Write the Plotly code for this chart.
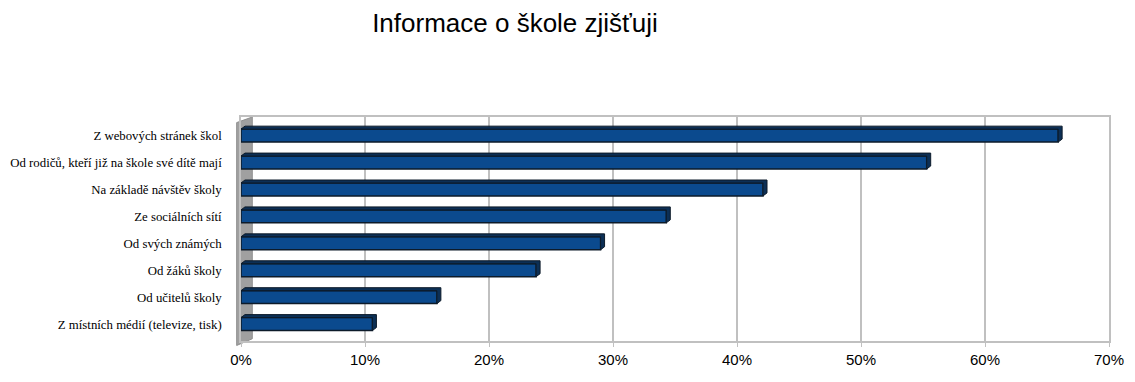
import plotly.graph_objects as go

categories = [
    "Z místních médií (televize, tisk)",
    "Od učitelů školy",
    "Od žáků školy",
    "Od svých známých",
    "Ze sociálních sítí",
    "Na základě návštěv školy",
    "Od rodičů, kteří již na škole své dítě mají",
    "Z webových stránek škol",
]
values = [0.106, 0.158, 0.238, 0.290, 0.343, 0.421, 0.553, 0.659]
tick_vals = [0, 0.1, 0.2, 0.3, 0.4, 0.5, 0.6, 0.7]
tick_text = ["0%", "10%", "20%", "30%", "40%", "50%", "60%", "70%"]

BAR_COLOR = "#0b4a8e"
EDGE = "#0d1b2a"
CAP = "#0c2f55"
GRID = "#c0c0c0"

fig = go.Figure()
fig.add_trace(go.Bar(
    x=values, y=categories, orientation="h", width=0.48,
    marker=dict(color=BAR_COLOR, line=dict(color=EDGE, width=1.5)),
    hoverinfo="x+y",
))

shapes = []
# left 3D side wall
shapes.append(dict(type="path", xref="paper", yref="paper",
                   path="M -0.005,-0.02 L 0.013,0.01 L 0.013,1.0 L -0.005,0.975 Z",
                   fillcolor="#a0a0a0", line=dict(color="#909090", width=1), layer="below"))
# 3D top/right faces of bars derived from data
h = 0.24
dx = 0.0032
dy = 0.11
for i, v in enumerate(values):
    p = (f"M 0,{i+h} L {dx},{i+h+dy} L {v+dx},{i+h+dy} L {v+dx},{i-h+dy} "
         f"L {v},{i-h} L {v},{i+h} Z")
    shapes.append(dict(type="path", xref="x", yref="y", path=p,
                       fillcolor=CAP, line=dict(color=EDGE, width=1), layer="above"))

fig.update_layout(
    width=1135, height=382,
    margin=dict(l=233, r=34, t=109, b=49),
    paper_bgcolor="white", plot_bgcolor="white",
    showlegend=False,
    bargap=0.5,
    shapes=shapes,
    title=dict(text="Informace o škole zjišťuji", x=507/1135, xanchor="center",
               y=1 - 15/382, yanchor="middle", yref="container",
               font=dict(family="Liberation Sans, Arial", size=26, color="#000")),
    xaxis=dict(range=[0, 0.70], tickvals=tick_vals, ticktext=tick_text,
               showgrid=True, gridcolor=GRID, gridwidth=1.5, automargin=False,
               showline=True, mirror=True, linecolor=GRID, linewidth=1.5,
               ticks="outside", ticklen=4, tickcolor=GRID, zeroline=False,
               tickfont=dict(family="Liberation Sans, Arial", size=15, color="#000")),
    yaxis=dict(categoryorder="array", categoryarray=categories,
               range=[-0.63, 7.69], showgrid=False, zeroline=False, automargin=False,
               showline=True, mirror=True, linecolor=GRID, linewidth=1.5,
               ticks="", ticklabelstandoff=15,
               tickfont=dict(family="Liberation Serif, Times New Roman, serif", size=12.8, color="#000")),
)

fig.write_html("out.html")
